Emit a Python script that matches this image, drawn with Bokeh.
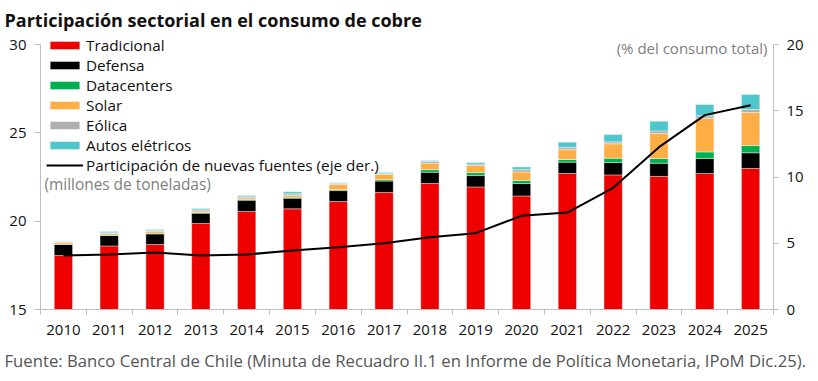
from bokeh.plotting import figure
from bokeh.models import (ColumnDataSource, Range1d, LinearAxis, FixedTicker,
                          Legend, LegendItem, Label, Title)
from bokeh.embed import file_html
from bokeh.resources import INLINE

years = ["2010", "2011", "2012", "2013", "2014", "2015", "2016", "2017",
         "2018", "2019", "2020", "2021", "2022", "2023", "2024", "2025"]
tradicional = [18.06, 18.60, 18.68, 19.87, 20.55, 20.70, 21.11, 21.62,
               22.13, 21.94, 21.43, 22.70, 22.62, 22.53, 22.70, 22.98]
defensa = [0.62, 0.59, 0.60, 0.58, 0.64, 0.60, 0.62, 0.65,
           0.64, 0.64, 0.70, 0.64, 0.70, 0.75, 0.85, 0.89]
datacenters = [0.02, 0.02, 0.03, 0.04, 0.03, 0.05, 0.06, 0.08,
               0.15, 0.17, 0.17, 0.15, 0.24, 0.27, 0.37, 0.41]
solar = [0.09, 0.09, 0.10, 0.09, 0.10, 0.12, 0.28, 0.30,
         0.36, 0.40, 0.49, 0.56, 0.82, 1.41, 1.89, 1.87]
eolica = [0.03, 0.05, 0.06, 0.06, 0.06, 0.08, 0.06, 0.05,
          0.10, 0.09, 0.13, 0.13, 0.11, 0.15, 0.15, 0.17]
autos = [0.03, 0.06, 0.06, 0.07, 0.07, 0.11, 0.04, 0.05,
         0.05, 0.08, 0.15, 0.29, 0.41, 0.55, 0.64, 0.85]
participacion = [4.08, 4.15, 4.30, 4.08, 4.15, 4.45, 4.70, 5.00,
                 5.46, 5.76, 7.07, 7.32, 9.18, 12.25, 14.67, 15.42]

series_names = ["Tradicional", "Defensa", "Datacenters", "Solar", "Eólica", "Autos elétricos"]
line_name = "Participación de nuevas fuentes (eje der.)"
left_ticks = [15, 20, 25, 30]
right_ticks = [0, 5, 10, 15, 20]

FONT = "Open Sans"
colors = ["#EE0000", "#000000", "#00B050", "#FFAD45", "#B0B0B0", "#4FC5CC"]
keys = ["tradicional", "defensa", "datacenters", "solar", "eolica", "autos"]

xs = [i + 0.5 for i in range(len(years))]
src = ColumnDataSource(dict(x=xs, tradicional=tradicional, defensa=defensa,
                            datacenters=datacenters, solar=solar, eolica=eolica,
                            autos=autos))

# frame extends 8px above the top tick so the legend is not clipped
extra = 8 / 265
p = figure(width=818, height=381, output_backend="svg", toolbar_location=None,
           x_range=Range1d(0, len(years)),
           y_range=Range1d(15, 30 + 15 * extra),
           min_border_left=40, min_border_right=45, min_border_top=36,
           min_border_bottom=72)
p.extra_y_ranges = {"right": Range1d(0, 20 + 20 * extra)}
p.outline_line_color = None
p.xgrid.visible = False
p.ygrid.visible = False
p.background_fill_color = "white"
p.border_fill_color = "white"

p.title = Title(text="Participación sectorial en el consumo de cobre",
                text_font=FONT, text_font_size="18px", text_font_style="bold",
                text_color="#111111", align="left", offset=-36, standoff=9)

bars = p.vbar_stack(keys, x="x", width=0.4, color=colors, source=src,
                    line_color="white", line_width=0.4)
ln = p.line(xs, participacion, y_range_name="right", color="black", line_width=2)

AX = "#BFBFBF"
xa = p.xaxis[0]
xa.ticker = FixedTicker(ticks=xs, minor_ticks=list(range(len(years) + 1)))
xa.major_label_overrides = {x: y for x, y in zip(xs, years)}
xa.major_tick_line_color = None
xa.minor_tick_line_color = AX
xa.minor_tick_out = 5
xa.minor_tick_in = 0
xa.axis_line_color = AX
xa.major_label_text_font = FONT
xa.major_label_text_font_size = "15px"
xa.major_label_text_color = "#111111"
xa.major_label_standoff = 9

ya = p.yaxis[0]
ya.ticker = FixedTicker(ticks=left_ticks)
ya.bounds = (15, 30)
ya.minor_tick_line_color = None
ya.major_tick_out = 6
ya.major_tick_in = 0
ya.major_tick_line_color = AX
ya.axis_line_color = AX
ya.major_label_text_font = FONT
ya.major_label_text_font_size = "15px"
ya.major_label_text_color = "#111111"
ya.major_label_standoff = 8

ra = LinearAxis(y_range_name="right", ticker=FixedTicker(ticks=right_ticks),
                bounds=(0, 20))
ra.minor_tick_line_color = None
ra.major_tick_out = 5
ra.major_tick_in = 0
ra.major_tick_line_color = AX
ra.axis_line_color = AX
ra.major_label_text_font = FONT
ra.major_label_text_font_size = "15px"
ra.major_label_text_color = "#111111"
ra.major_label_standoff = 8
p.add_layout(ra, "right")

footer = Title(text="Fuente: Banco Central de Chile (Minuta de Recuadro II.1 en Informe de Política Monetaria, IPoM Dic.25).",
               text_font=FONT, text_font_size="16.7px", text_font_style="normal",
               text_color="#555555", align="left", offset=-36, standoff=18)
p.add_layout(footer, "below")

items = [LegendItem(label=n, renderers=[r]) for n, r in zip(series_names, bars)]
items.append(LegendItem(label=line_name, renderers=[ln]))
legend = Legend(items=items, location=(6, 134), orientation="vertical",
                glyph_width=37, glyph_height=10, label_height=20, spacing=0,
                padding=0, margin=0, label_standoff=3,
                label_text_font=FONT, label_text_font_size="15.3px",
                label_text_color="#111111", background_fill_alpha=0,
                border_line_alpha=0)
p.add_layout(legend, "center")

p.add_layout(Label(x=4, y=125, x_units="screen", y_units="screen",
                   text="(millones de toneladas)", text_font=FONT,
                   text_font_size="15.4px", text_color="#808080",
                   text_baseline="middle"))
p.add_layout(Label(x=727, y=262, x_units="screen", y_units="screen",
                   text="(% del consumo total)", text_font=FONT,
                   text_font_size="15px", text_color="#808080",
                   text_baseline="middle", text_align="right"))

open("out.html", "w").write(file_html(p, INLINE))
